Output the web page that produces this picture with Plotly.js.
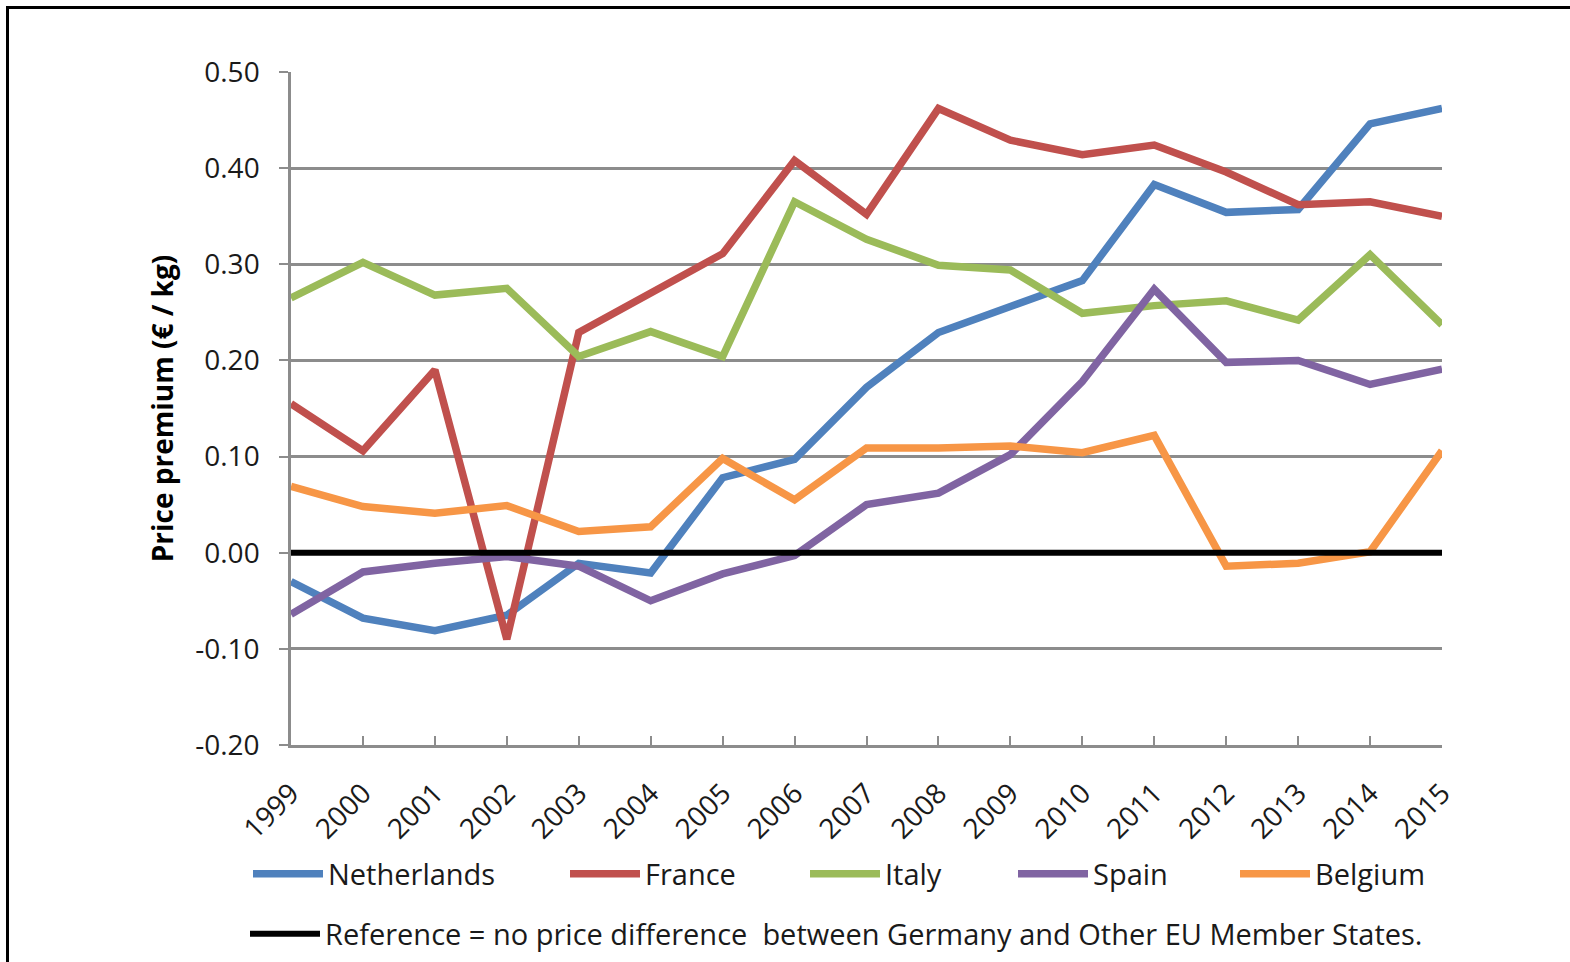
<!DOCTYPE html>
<html>
<head>
<meta charset="utf-8">
<script src="https://cdn.plot.ly/plotly-3.0.1.min.js"></script>
<style>
  html, body { margin: 0; padding: 0; background: #fff; overflow: hidden; }
  #chart { width: 1570px; height: 962px; }
  #frame { position: absolute; left: 6px; top: 6px; width: 1700px; height: 1100px;
           border: 3px solid #000; pointer-events: none; }
</style>
</head>
<body>
<div id="chart"></div>
<div id="frame"></div>
<script>
const years = [1999, 2000, 2001, 2002, 2003, 2004, 2005, 2006, 2007, 2008, 2009, 2010, 2011, 2012, 2013, 2014, 2015];
const netherlands = [-0.030, -0.068, -0.081, -0.065, -0.011, -0.021, 0.078, 0.097, 0.172, 0.229, 0.256, 0.283, 0.383, 0.354, 0.357, 0.446, 0.462];
const france      = [0.155, 0.106, 0.190, -0.090, 0.229, 0.271, 0.311, 0.408, 0.352, 0.462, 0.429, 0.414, 0.424, 0.396, 0.362, 0.365, 0.350];
const italy       = [0.265, 0.302, 0.268, 0.275, 0.204, 0.230, 0.204, 0.365, 0.326, 0.299, 0.294, 0.249, 0.257, 0.262, 0.242, 0.310, 0.237];
const spain       = [-0.064, -0.020, -0.011, -0.004, -0.014, -0.050, -0.022, -0.003, 0.050, 0.062, 0.102, 0.178, 0.274, 0.198, 0.200, 0.175, 0.191];
const belgium     = [0.069, 0.048, 0.041, 0.049, 0.022, 0.027, 0.098, 0.055, 0.109, 0.109, 0.111, 0.104, 0.122, -0.014, -0.011, 0.001, 0.106];
const reference   = [0, 0, 0, 0, 0, 0, 0, 0, 0, 0, 0, 0, 0, 0, 0, 0, 0];

const yTickVals = [-0.2, -0.1, 0, 0.1, 0.2, 0.3, 0.4, 0.5];
const yTickText = ["-0.20", "-0.10", "0.00", "0.10", "0.20", "0.30", "0.40", "0.50"];

const seriesNames = ["Netherlands", "France", "Italy", "Spain", "Belgium",
  "Reference = no price difference  between Germany and Other EU Member States."];
const seriesData = [netherlands, france, italy, spain, belgium, reference];
const seriesColors = ["#4F81BD", "#C0504D", "#9BBB59", "#8064A2", "#F79646", "#000000"];
const seriesWidths = [7.5, 7.5, 7.5, 7.5, 7.5, 6];
const legendIds = ["legend", "legend2", "legend3", "legend4", "legend5", "legend6"];

const traces = seriesData.map((vals, i) => ({
  type: "scatter",
  mode: "lines",
  x: years,
  y: vals,
  name: seriesNames[i],
  legend: legendIds[i],
  line: { color: seriesColors[i], width: seriesWidths[i] },
  hoverinfo: "x+y+name"
}));

const font = "'Open Sans', 'Liberation Sans', sans-serif";
const W = 1570, H = 962;
const plotL = 291, plotR = 1442, plotT = 72, plotB = 745;

function legendAt(pxX, pxY) {
  return {
    xref: "container", yref: "container",
    x: pxX / W, y: 1 - pxY / H, xanchor: "left", yanchor: "middle",
    orientation: "h", bgcolor: "rgba(0,0,0,0)", borderwidth: 0,
    font: { family: font, size: 29, color: "#1a1a1a" }, itemwidth: 70
  };
}

const layout = {
  width: W, height: H,
  margin: { l: plotL, r: W - plotR, t: plotT, b: H - plotB, pad: 0 },
  paper_bgcolor: "#ffffff", plot_bgcolor: "#ffffff",
  font: { family: font, size: 28, color: "#1a1a1a" },
  xaxis: {
    type: "linear", range: [1999, 2015], tickvals: years, ticktext: years.map(String),
    tickangle: -45, ticks: "inside", ticklen: 9, tickwidth: 2, tickcolor: "#8c8c8c",
    showline: true, linecolor: "#8c8c8c", linewidth: 2.5, showgrid: false, zeroline: false,
    tickfont: { family: font, size: 28, color: "#1a1a1a" }, ticklabelstandoff: 18,
    automargin: false, fixedrange: true
  },
  yaxis: {
    range: [-0.2, 0.5], tickvals: yTickVals, ticktext: yTickText,
    ticks: "outside", ticklen: 9, tickwidth: 2, tickcolor: "#8c8c8c",
    showline: true, linecolor: "#8c8c8c", linewidth: 2.5,
    showgrid: true, gridcolor: "#8c8c8c", gridwidth: 2.5, zeroline: false,
    tickfont: { family: font, size: 28, color: "#1a1a1a" }, ticklabelstandoff: 14,
    title: { text: "Price premium (€ / kg)", standoff: 14,
             font: { family: font, size: 28, color: "#000", weight: "bold" } },
    automargin: false, fixedrange: true
  },
  showlegend: true,
  legend:  legendAt(248, 874),
  legend2: legendAt(565, 874),
  legend3: legendAt(805, 874),
  legend4: legendAt(1013, 874),
  legend5: legendAt(1235, 874),
  legend6: legendAt(245, 934)
};

Plotly.newPlot("chart", traces, layout, { displayModeBar: false });
</script>
</body>
</html>
